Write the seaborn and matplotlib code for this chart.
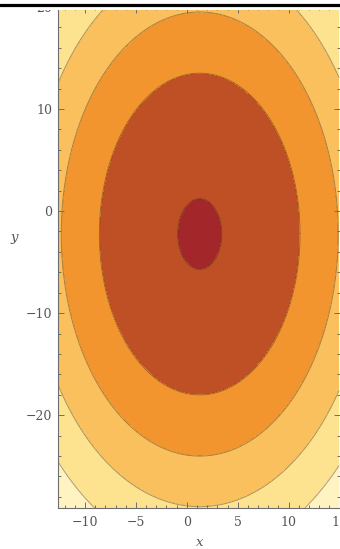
import matplotlib
matplotlib.use('Agg')
import matplotlib.pyplot as plt
from matplotlib.patches import Rectangle
from matplotlib.lines import Line2D
from matplotlib.ticker import MultipleLocator
import numpy as np
import seaborn as sns

sns.set_theme(style='ticks')
plt.rcParams['font.family'] = ['DejaVu Serif', 'DejaVu Sans']

# field: elliptical level sets centred on (cx, cy), stretched along y
center_x = 1.27
center_y = -2.25
stretch_y = 1.6
# contour levels (radius along x), inner -> outer
levels = [0, 2.16, 9.85, 13.6, 16.7, 19.7, 40]
band_colors = ['#A3272A', '#BF4F25', '#F3952F', '#FBC05E', '#FDE38F', '#FFF3C1']

x_range = (-12.65, 14.95)
y_range = (-29.1, 20.0)

W, H = 340, 549
fig = plt.figure(figsize=(W / 100, H / 100), dpi=100)
ax = fig.add_axes([58 / W, 1 - 508 / H, (339.5 - 58) / W, (508 - 7) / H])
ax.set_axisbelow(False)

gx = np.linspace(x_range[0], x_range[1], 500)
gy = np.linspace(y_range[0], y_range[1], 800)
X, Y = np.meshgrid(gx, gy)
R = np.sqrt((X - center_x) ** 2 + ((Y - center_y) / stretch_y) ** 2)

ax.contourf(X, Y, R, levels=levels, colors=band_colors, zorder=1)
ax.contour(X, Y, R, levels=levels[1:-1], colors=[(0.25, 0.18, 0.1)],
           linewidths=0.7, alpha=0.45, zorder=2)

ax.set_xlim(*x_range)
ax.set_ylim(*y_range)

ax.xaxis.set_major_locator(MultipleLocator(5))
ax.xaxis.set_minor_locator(MultipleLocator(1))
ax.yaxis.set_major_locator(MultipleLocator(10))
ax.yaxis.set_minor_locator(MultipleLocator(2))
ax.set_xticks([-10, -5, 0, 5, 10, 15])
ax.set_xticklabels(['\u221210', '\u22125', '0', '5', '10', '15'])

frame_gray = '#6e6e6e'
for s in ax.spines.values():
    s.set_color(frame_gray)
    s.set_linewidth(0.8)
    s.set_zorder(5)
ax.tick_params(which='both', direction='in', top=True, right=True,
               bottom=True, left=True,
               color=frame_gray, width=0.7, labelcolor='#555555', labelsize=9)
ax.tick_params(which='major', length=4, pad=4)
ax.tick_params(axis='x', which='major', pad=6)
ax.tick_params(which='minor', length=2.3)

ax.set_xlabel('x', fontstyle='italic', color='#555555', fontsize=9.5, va='center')
ax.set_ylabel('y', fontstyle='italic', color='#555555', fontsize=9.5, rotation=0,
              va='center', ha='center')
ax.yaxis.set_label_coords((14 - 58) / 281.5, 1 - (238 - 7) / 501)
ax.xaxis.set_label_coords((200 - 58) / 281.5, -(543 - 508) / 501)

# top crop band with black rule
fig.add_artist(Rectangle((0, 1 - 10 / H), 1, 10 / H, transform=fig.transFigure,
                         facecolor='white', edgecolor='none', zorder=10))
fig.add_artist(Line2D([0, 1], [1 - 5 / H, 1 - 5 / H], transform=fig.transFigure,
                      color='black', linewidth=2.3, zorder=11))

fig.savefig('out.png', dpi=100)
